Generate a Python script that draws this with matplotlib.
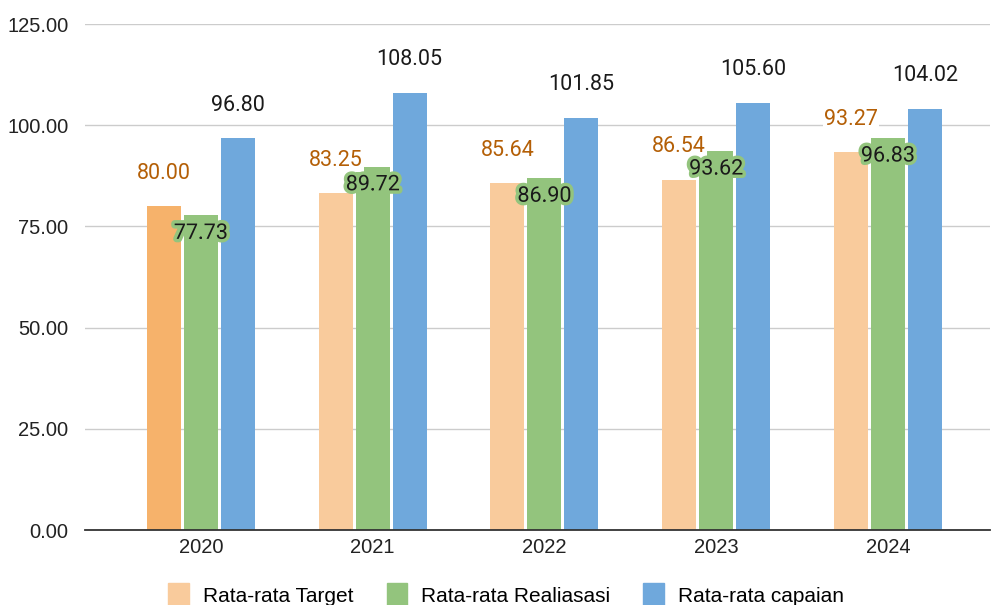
import matplotlib
matplotlib.use("Agg")
import matplotlib.pyplot as plt
import matplotlib.patheffects as pe
from matplotlib.patches import Patch
import numpy as np

years = ["2020", "2021", "2022", "2023", "2024"]
target = [80.00, 83.25, 85.64, 86.54, 93.27]
realisasi = [77.73, 89.72, 86.90, 93.62, 96.83]
capaian = [96.80, 108.05, 101.85, 105.60, 104.02]
seriesNames = ["Rata-rata Target", "Rata-rata Realiasasi", "Rata-rata capaian"]

targetColors = ["#f6b26b", "#f9cb9c", "#f9cb9c", "#f9cb9c", "#f9cb9c"]
greenColor = "#93c47d"
blueColor = "#6fa8dc"
labelOrange = "#b45f06"

plt.rcParams["font.family"] = ["Liberation Sans", "DejaVu Sans"]

fig = plt.figure(figsize=(9.92, 6.05), dpi=100)
ax = fig.add_axes([85/992, 75/605, 905/992, 506/605])

x = np.arange(len(years))
w = 0.198
off = 0.215

ax.bar(x - off, target, w, color=targetColors, zorder=3)
ax.bar(x, realisasi, w, color=greenColor, zorder=3)
ax.bar(x + off, capaian, w, color=blueColor, zorder=3)

ax.set_ylim(0, 125)
ax.set_xlim(-0.675, 4.595)
ax.set_yticks(np.arange(0, 126, 25))
ax.set_yticklabels([f"{v:.2f}" for v in np.arange(0, 126, 25)], fontsize=14.5, color="#222222")
ax.set_xticks(x)
ax.set_xticklabels(years, fontsize=14.5, color="#222222")
ax.tick_params(length=0, pad=12)
ax.tick_params(axis="x", pad=6)
ax.grid(axis="y", color="#cccccc", linewidth=1, zorder=0)
for s in ["top", "right", "left"]:
    ax.spines[s].set_visible(False)
ax.spines["bottom"].set_color("#333333")
ax.spines["bottom"].set_linewidth(1.3)
ax.spines["bottom"].set_zorder(4)

for i in range(len(years)):
    ax.annotate(f"{target[i]:.2f}", (x[i] - off, target[i]), xytext=(0, 33 * 0.72),
                textcoords="offset points", ha="center", va="center",
                fontsize=15.5, color=labelOrange, family="Roboto", zorder=5,
                bbox=dict(boxstyle="square,pad=0.05", fc="white", ec="none"))
    ax.annotate(f"{realisasi[i]:.2f}", (x[i], realisasi[i]), xytext=(0, -18 * 0.72),
                textcoords="offset points", ha="center", va="center",
                fontsize=15.5, color="#1a1a1a", family="Roboto", zorder=5,
                path_effects=[pe.withStroke(linewidth=5, foreground=greenColor)])
    ax.annotate(f"{capaian[i]:.2f}", (x[i] + off, capaian[i]), xytext=(0, 33 * 0.72),
                textcoords="offset points", ha="center", va="center",
                fontsize=15.5, color="#1a1a1a", family="Roboto", zorder=5)

handles = [Patch(color="#f9cb9c"), Patch(color=greenColor), Patch(color=blueColor)]
fig.legend(handles, seriesNames, loc="center", bbox_to_anchor=(506/992, 1 - 595/605),
           ncol=3, frameon=False, fontsize=15, handlelength=1.0, handleheight=1.45,
           handletextpad=0.65, columnspacing=1.6)

fig.savefig("out.png", dpi=100)
